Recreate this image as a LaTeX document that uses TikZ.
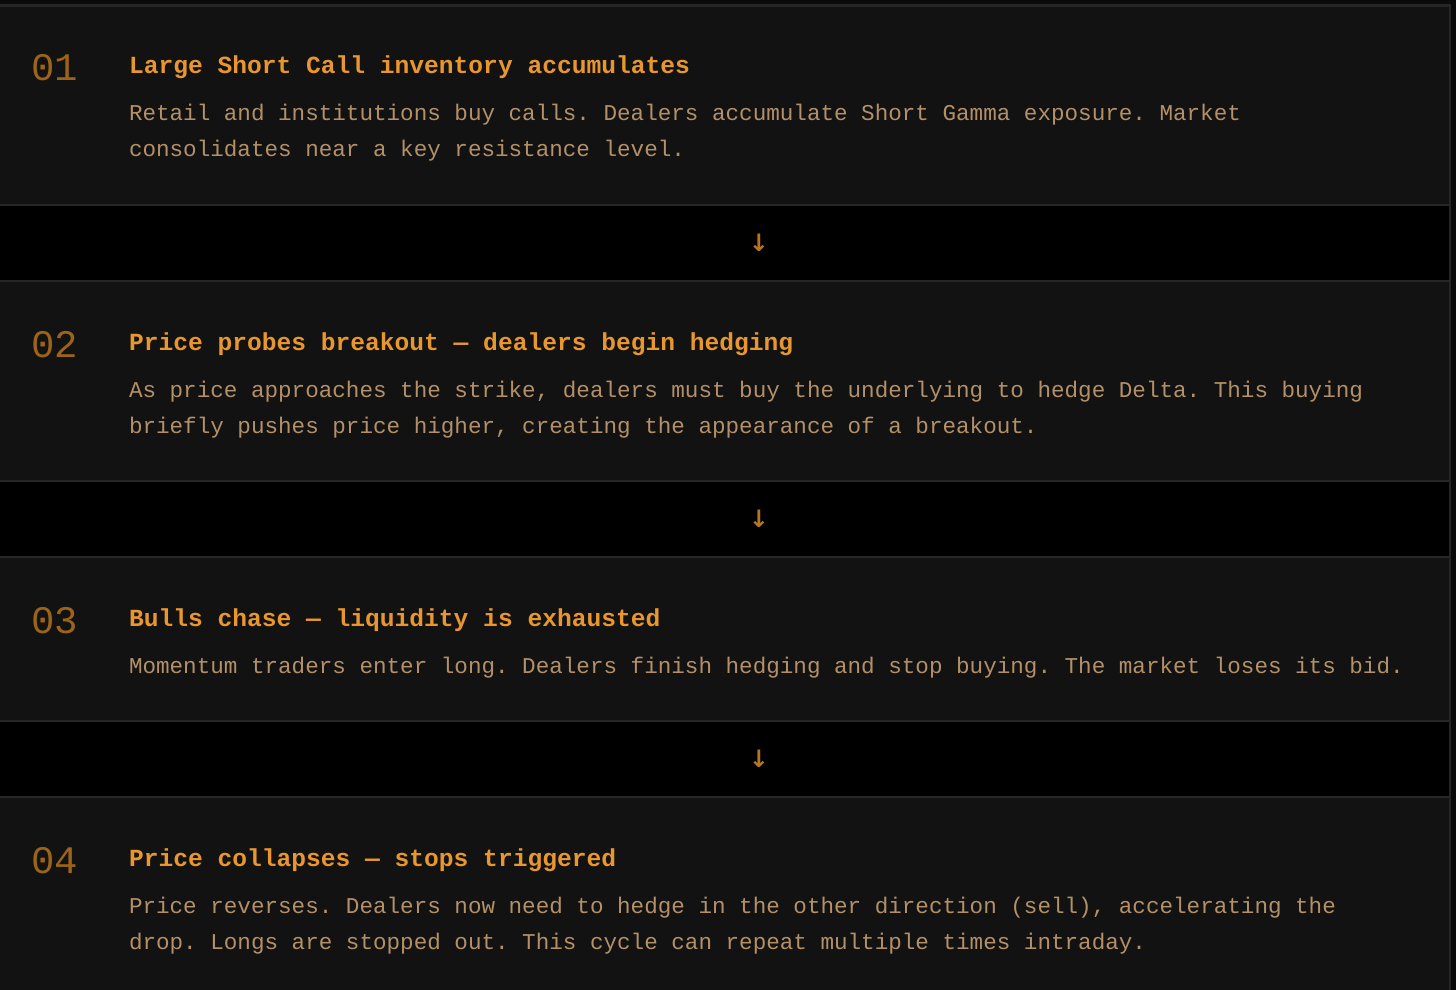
\documentclass[tikz,border=0pt]{standalone}
\usepackage{fontspec}
\setmonofont{Liberation Mono}
\newfontfamily\arrowfont{DejaVu Sans}
\usetikzlibrary{positioning}
\definecolor{pagebg}{HTML}{0B0B0B}
\definecolor{panelbg}{HTML}{121212}
\definecolor{panelline}{HTML}{262626}
\definecolor{titlecol}{HTML}{E8962E}
\definecolor{desccol}{HTML}{B39068}
\definecolor{numcol}{HTML}{9B6419}
\definecolor{arrowcol}{HTML}{B8741E}

\begin{document}
\begin{tikzpicture}[x=1pt, y=-1pt,
    every node/.style={inner sep=0pt, outer sep=0pt},
    panel/.style={fill=panelbg, draw=panelline, line width=1.2pt},
    num/.style={anchor=base west, text=numcol, font=\ttfamily\fontsize{39}{39}\selectfont},
    steptitle/.style={anchor=base west, text=titlecol, font=\ttfamily\bfseries\fontsize{24.6}{30}\selectfont},
    desc/.style={anchor=north west, align=left, text=desccol, font=\ttfamily\fontsize{22.6}{36.5}\selectfont},
    down/.style={text=arrowcol, font=\arrowfont\bfseries\fontsize{24}{24}\selectfont}]
      \fill[pagebg] (0, 0) rectangle (1456, 990);
      \useasboundingbox (0, 0) rectangle (1456, 990);
      \filldraw[fill=black, draw=panelline, line width=1.5pt] (-2, 5) rectangle (1450, 995);
      \node[panel, minimum width=1452pt, minimum height=199pt, anchor=north west] (p1) at (-2, 6) {};
      \node[panel, minimum width=1452pt, minimum height=200pt, anchor=north west] (p2) at (-2, 281) {};
      \node[panel, minimum width=1452pt, minimum height=164pt, anchor=north west] (p3) at (-2, 557) {};
      \node[panel, minimum width=1452pt, minimum height=200pt, anchor=north west] (p4) at (-2, 797) {};
      \node[num] (n1) at (31, 81) {01};
      \node[steptitle] (t1) at (129, 74) {Large Short Call inventory accumulates};
      \node[desc] (d1) at (129, 104) {Retail and institutions buy calls. Dealers accumulate Short Gamma exposure. Market\\consolidates near a key resistance level.};
      \node[down] (a1) at (759, 243) {↓};
      \node[num] (n2) at (31, 357) {02};
      \node[steptitle] (t2) at (129, 350) {Price probes breakout — dealers begin hedging};
      \node[desc] (d2) at (129, 381) {As price approaches the strike, dealers must buy the underlying to hedge Delta. This buying\\briefly pushes price higher, creating the appearance of a breakout.};
      \node[down] (a2) at (759, 519) {↓};
      \node[num] (n3) at (31, 633) {03};
      \node[steptitle] (t3) at (129, 626) {Bulls chase — liquidity is exhausted};
      \node[desc] (d3) at (129, 657) {Momentum traders enter long. Dealers finish hedging and stop buying. The market loses its bid.};
      \node[down] (a3) at (759, 759) {↓};
      \node[num] (n4) at (31, 873) {04};
      \node[steptitle] (t4) at (129, 866) {Price collapses — stops triggered};
      \node[desc] (d4) at (129, 897) {Price reverses. Dealers now need to hedge in the other direction (sell), accelerating the\\drop. Longs are stopped out. This cycle can repeat multiple times intraday.};
    \end{tikzpicture}
\end{document}
